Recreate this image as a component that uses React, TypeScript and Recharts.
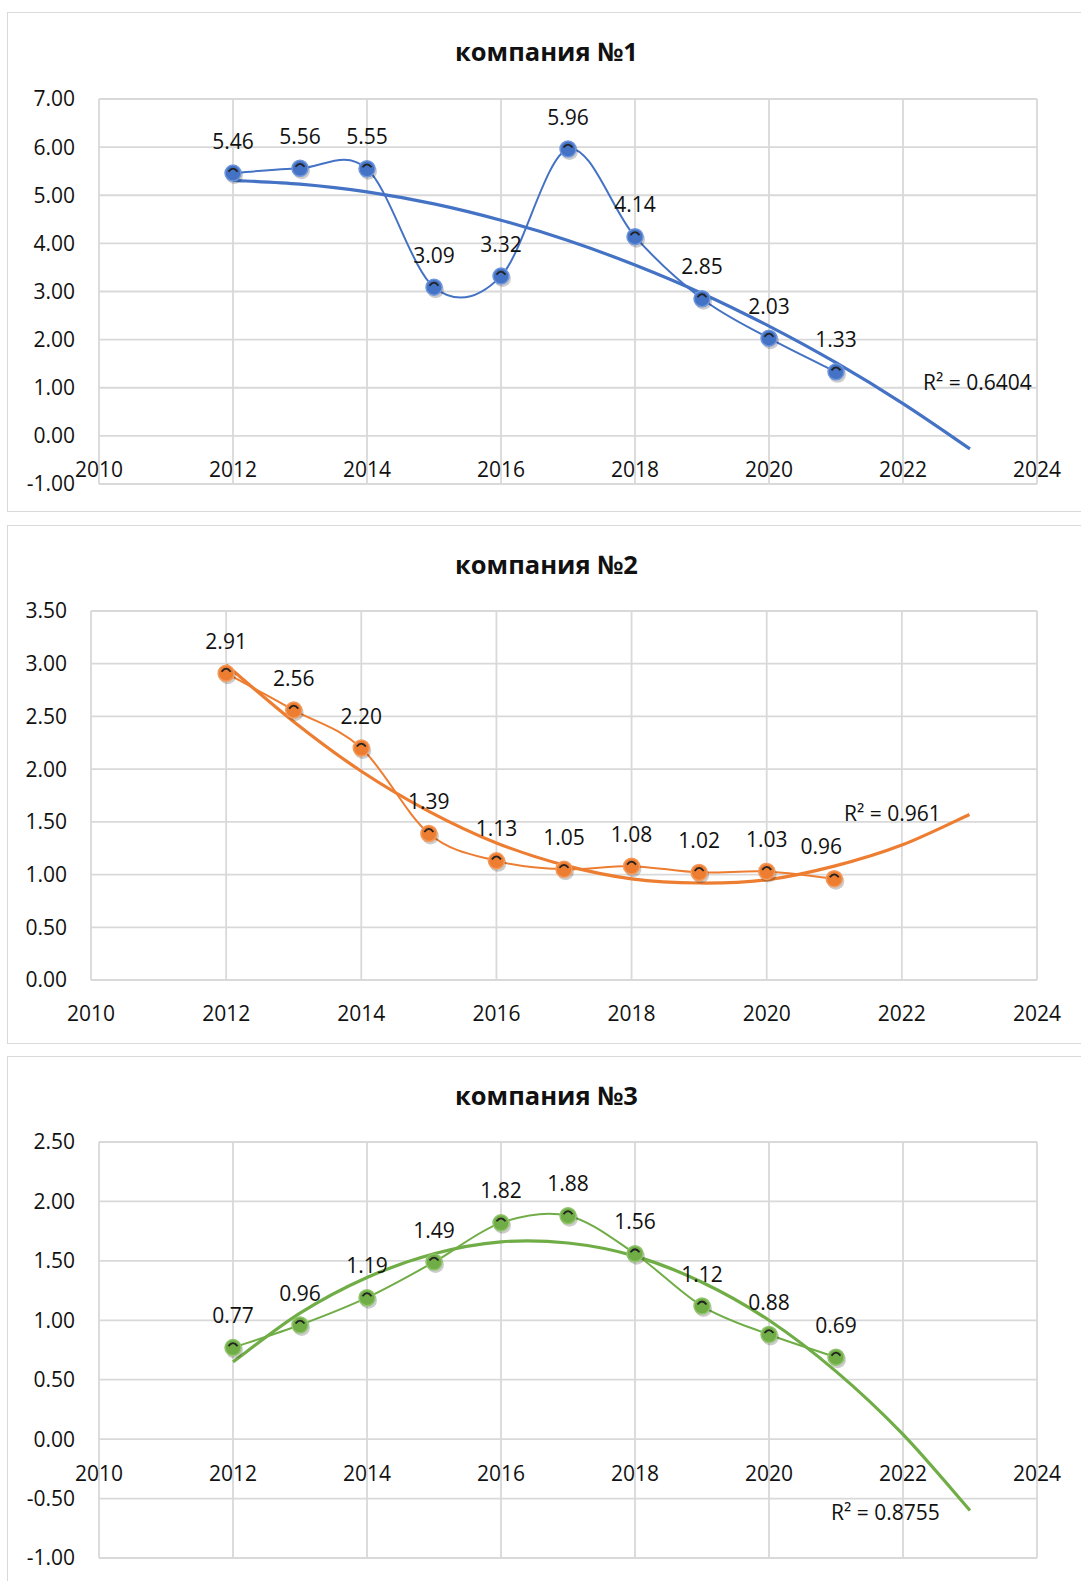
import React from 'react'
import { LineChart, Line, XAxis, YAxis, CartesianGrid } from 'recharts'

// years on the x axis
const years = [2012, 2013, 2014, 2015, 2016, 2017, 2018, 2019, 2020, 2021]
const trendYears = [2012, 2013, 2014, 2015, 2016, 2017, 2018, 2019, 2020, 2021, 2022, 2023]
const xTicks = [2010, 2012, 2014, 2016, 2018, 2020, 2022, 2024]

// company 1
const values1 = [5.46, 5.56, 5.55, 3.09, 3.32, 5.96, 4.14, 2.85, 2.03, 1.33]
const trend1 = [5.31, 5.23, 5.07, 4.82, 4.48, 4.06, 3.55, 2.96, 2.28, 1.52, 0.67, -0.27]
const yTicks1 = [-1, 0, 1, 2, 3, 4, 5, 6, 7]

// company 2
const values2 = [2.91, 2.56, 2.2, 1.39, 1.13, 1.05, 1.08, 1.02, 1.03, 0.96]
const trend2 = [2.99, 2.45, 1.98, 1.6, 1.3, 1.09, 0.96, 0.92, 0.95, 1.08, 1.28, 1.57]
const yTicks2 = [0, 0.5, 1, 1.5, 2, 2.5, 3, 3.5]

// company 3
const values3 = [0.77, 0.96, 1.19, 1.49, 1.82, 1.88, 1.56, 1.12, 0.88, 0.69]
const trend3 = [0.65, 1.06, 1.36, 1.56, 1.66, 1.65, 1.54, 1.32, 1.0, 0.57, 0.04, -0.6]
const yTicks3 = [-1, -0.5, 0, 0.5, 1, 1.5, 2, 2.5]

const TEXT = '#111'
const GRID = '#d9d9d9'
const FS = 21
const AXIS_H = 10

// Excel-like smoothed line (catmull-rom through the points)
const excelSmooth: any = (context: any) => {
  let pts: number[][] = []
  return {
    areaStart() {},
    areaEnd() {},
    lineStart() { pts = [] },
    point(x: number, y: number) { pts.push([+x, +y]) },
    lineEnd() {
      if (!pts.length) return
      context.moveTo(pts[0][0], pts[0][1])
      const k = 1 / 6
      for (let i = 0; i < pts.length - 1; i++) {
        const p0 = pts[i - 1] || pts[i]
        const p1 = pts[i]
        const p2 = pts[i + 1]
        const p3 = pts[i + 2] || p2
        context.bezierCurveTo(
          p1[0] + (p2[0] - p0[0]) * k, p1[1] + (p2[1] - p0[1]) * k,
          p2[0] - (p3[0] - p1[0]) * k, p2[1] - (p3[1] - p1[1]) * k,
          p2[0], p2[1],
        )
      }
    },
  }
}

const toSeries = (xs: number[], ys: number[]) => xs.map((year, i) => ({ year, value: ys[i] }))

interface ChartProps {
  title:   string
  top:     number
  height:  number
  boxHeight: number
  margin:  { top: number; right: number; bottom: number; left: number }
  yWidth:  number
  yTicks:  number[]
  values:  number[]
  trend:   number[]
  color:   string
  ring:    string
  r2:      string
  r2Left:  number
  r2Top:   number
  nudge?:  Record<number, number>
}

function CompanyChart(p: ChartProps) {
  const yMin = p.yTicks[0]
  const yMax = p.yTicks[p.yTicks.length - 1]
  const plotH = p.height - p.margin.top - p.margin.bottom - AXIS_H
  const zeroY = p.margin.top + plotH * (yMax / (yMax - yMin))

  const renderXTick = (props: any) => (
    <text
      key={props.index}
      x={props.x}
      y={zeroY + 34}
      dy="0.357em"
      textAnchor="middle"
      fontSize={FS}
      fill={TEXT}
    >
      {props.payload.value}
    </text>
  )

  const Dot = (props: any) => {
    const { cx, cy, index, payload } = props
    if (cx == null || cy == null) return <g key={index} />
    const shift = p.nudge?.[payload.year] ?? 0
    return (
      <g key={index}>
        <circle cx={cx + 1.5} cy={cy + 2.5} r={8.5} fill="#000" opacity={0.2} />
        <circle cx={cx} cy={cy} r={8} fill={p.color} stroke={p.ring} strokeWidth={1.5} />
        <path
          d={`M ${cx - 4.5} ${cy - 1.5} Q ${cx} ${cy - 7.5} ${cx + 4.5} ${cy - 1.5}`}
          stroke="#222" strokeWidth={1.8} fill="none"
        />
        <text x={cx + shift} y={cy - 32} dy="0.357em" textAnchor="middle" fontSize={FS} fill={TEXT}>
          {Number(payload.value).toFixed(2)}
        </text>
      </g>
    )
  }

  return (
    <>
      {/* frame */}
      <div style={{
        position: 'absolute', left: 7, top: p.top, width: 1100, height: p.boxHeight,
        border: `1.5px solid ${GRID}`, boxSizing: 'border-box',
      }} />
      {/* title */}
      <div style={{
        position: 'absolute', left: 7, width: 1079, top: p.top + 27, textAlign: 'center',
        fontWeight: 700, fontSize: 25.5, lineHeight: '25px', color: TEXT,
      }}>
        {p.title}
      </div>
      <div style={{ position: 'absolute', left: 0, top: p.top }}>
        <LineChart width={1081} height={p.height} margin={p.margin}>
          <CartesianGrid stroke={GRID} strokeWidth={1.8} />
          <XAxis
            type="number"
            dataKey="year"
            domain={[2010, 2024]}
            ticks={xTicks}
            interval={0}
            height={AXIS_H}
            axisLine={false}
            tickLine={false}
            tick={renderXTick}
          />
          <YAxis
            type="number"
            domain={[yMin, yMax]}
            ticks={p.yTicks}
            interval={0}
            width={p.yWidth}
            axisLine={false}
            tickLine={false}
            tickSize={0}
            tickMargin={24}
            tick={{ fontSize: FS, fill: TEXT }}
            tickFormatter={(v: number) => v.toFixed(2)}
          />
          <Line
            data={toSeries(trendYears, p.trend)}
            dataKey="value"
            type={excelSmooth}
            stroke={p.color}
            strokeWidth={3.2}
            dot={false}
            activeDot={false}
            isAnimationActive={false}
          />
          <Line
            data={toSeries(years, p.values)}
            dataKey="value"
            type={excelSmooth}
            stroke={p.color}
            strokeWidth={2}
            dot={Dot}
            activeDot={false}
            isAnimationActive={false}
          />
        </LineChart>
      </div>
      <div style={{
        position: 'absolute', left: p.r2Left, top: p.r2Top - 11.5, fontSize: FS,
        lineHeight: '21px', color: TEXT, whiteSpace: 'nowrap',
      }}>
        {p.r2}
      </div>
    </>
  )
}

export default function App() {
  return (
    <div style={{
      position: 'absolute', left: 0, top: 0, width: 1081, height: 1581, overflow: 'hidden',
      background: '#fff', fontFamily: "'Open Sans', sans-serif",
    }}>
      <CompanyChart
        title="компания №1"
        top={12}
        height={500}
        boxHeight={500}
        margin={{ top: 87, right: 44, bottom: 28 - AXIS_H, left: 0 }}
        yWidth={99}
        yTicks={yTicks1}
        values={values1}
        trend={trend1}
        color="#4472C4"
        ring="#6f96dc"
        r2="R² = 0.6404"
        r2Left={923}
        r2Top={383}
      />
      <CompanyChart
        title="компания №2"
        top={525}
        height={518}
        boxHeight={519}
        margin={{ top: 86, right: 44, bottom: 63 - AXIS_H, left: 0 }}
        yWidth={91}
        yTicks={yTicks2}
        values={values2}
        trend={trend2}
        color="#ED7D31"
        ring="#f39a5c"
        r2="R² = 0.961"
        r2Left={844}
        r2Top={814}
        nudge={{ 2021: -13 }}
      />
      <CompanyChart
        title="компания №3"
        top={1056}
        height={525}
        boxHeight={560}
        margin={{ top: 86, right: 44, bottom: 23 - AXIS_H, left: 0 }}
        yWidth={99}
        yTicks={yTicks3}
        values={values3}
        trend={trend3}
        color="#70AD47"
        ring="#8fc46b"
        r2="R² = 0.8755"
        r2Left={831}
        r2Top={1513}
      />
    </div>
  )
}
